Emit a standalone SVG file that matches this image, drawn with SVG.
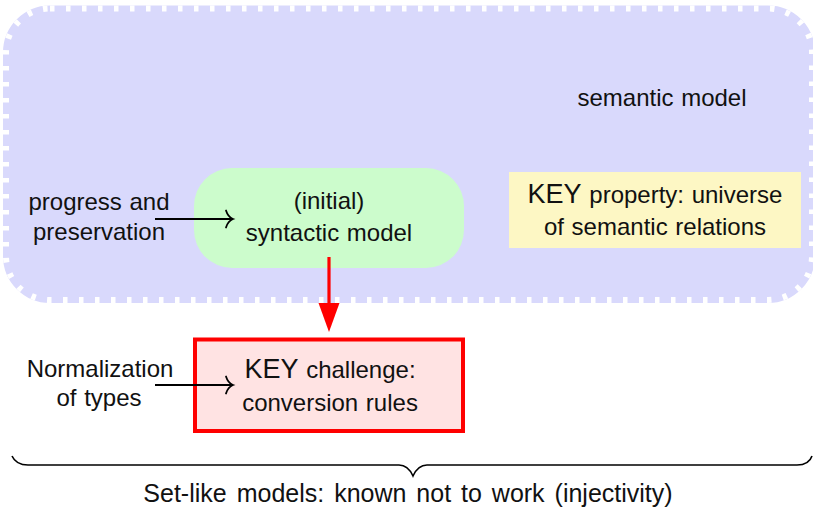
<svg xmlns="http://www.w3.org/2000/svg" width="813" height="509" viewBox="0 0 813 509">
  <style>
    text { font-family: "Liberation Sans", Arial, sans-serif; font-size: 24px; fill: #111; text-anchor: middle; word-spacing: 1px; }
    .key { font-size: 27px; }
    .caption { font-size: 25px; word-spacing: 3px; }
    .conn { fill: none; stroke: #000; stroke-width: 1.8; }
  </style>
  <defs>
    <marker id="to" markerWidth="12" markerHeight="20" refX="9" refY="10" orient="auto" markerUnits="userSpaceOnUse">
      <path d="M2,1.5 Q4,8 9,10 Q4,12 2,18.5" fill="none" stroke="#000" stroke-width="1.8" stroke-linecap="round"/>
    </marker>
  </defs>

  <!-- semantic model region: lavender area with white dashed rim -->
  <g id="semantic-model">
    <rect x="6" y="8.5" width="806" height="291.5" rx="44" fill="#d9d9fc" stroke="#d9d9fc" stroke-width="6"/>
    <rect x="6" y="8.5" width="806" height="291.5" rx="44" fill="none" stroke="#ffffff" stroke-width="6" stroke-dasharray="4.5 11.5"/>
    <text x="662" y="106">semantic model</text>
  </g>

  <g id="progress-label">
    <text x="99" y="210">progress and</text>
    <text x="99" y="240">preservation</text>
  </g>

  <g id="syntactic-model">
    <rect x="194" y="168" width="270" height="100" rx="38" fill="#ccfccc"/>
    <text x="329" y="209">(initial)</text>
    <text x="329" y="241">syntactic model</text>
  </g>

  <g id="key-property">
    <rect x="509" y="172" width="292" height="76" fill="#fdf7c4"/>
    <text x="655" y="203"><tspan class="key">KEY</tspan> property:  universe</text>
    <text x="655" y="235">of semantic relations</text>
  </g>

  <g id="normalization-label">
    <text x="100" y="377">Normalization</text>
    <text x="99" y="406">of types</text>
  </g>

  <g id="key-challenge">
    <rect x="195" y="339.5" width="268" height="91.5" fill="#ffe3e3" stroke="#ff0000" stroke-width="4"/>
    <text x="330" y="378"><tspan class="key">KEY</tspan> challenge:</text>
    <text x="330" y="411">conversion rules</text>
  </g>

  <g id="connectors">
    <line class="conn" x1="155" y1="219" x2="233" y2="219" marker-end="url(#to)"/>
    <line class="conn" x1="155" y1="385" x2="233" y2="385" marker-end="url(#to)"/>
    <line x1="329" y1="257" x2="329" y2="306" stroke="#ff0000" stroke-width="3.2"/>
    <path d="M318.5,303 L339.5,303 L329,332 Z" fill="#ff0000"/>
  </g>

  <!-- underbrace with its caption -->
  <g id="brace">
    <path d="M12,456 Q16,465 28,465 L399,465 Q408,465 413,476 Q418,465 427,465 L797,465 Q809,465 812,456" fill="none" stroke="#000" stroke-width="1.6"/>
    <text class="caption" x="408" y="502">Set-like models:  known not to work (injectivity)</text>
  </g>
</svg>
